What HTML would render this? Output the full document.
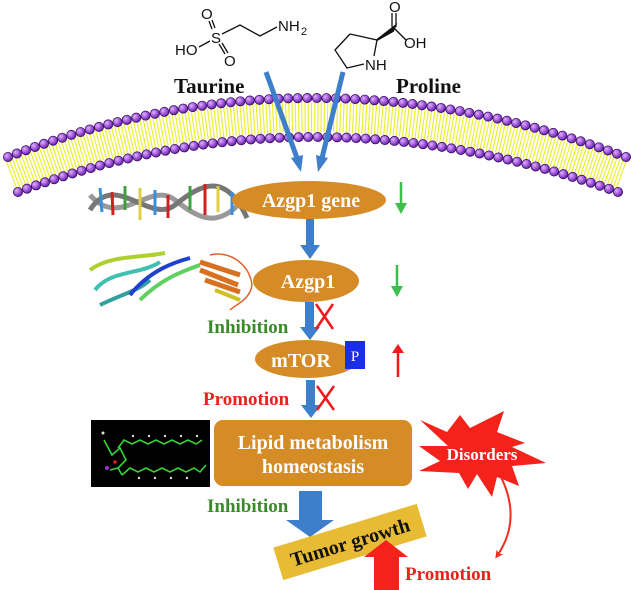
<!DOCTYPE html>
<html><head><meta charset="utf-8"><style>
html,body{margin:0;padding:0;background:#fff;}
svg{display:block;}
.sf{font-family:"Liberation Serif",serif;font-weight:bold;}
.ss{font-family:"Liberation Sans",sans-serif;}
</style></head><body>
<svg id="s" width="633" height="590" viewBox="0 0 633 590" xmlns="http://www.w3.org/2000/svg">
<defs>
<radialGradient id="bead" cx="0.35" cy="0.35" r="0.7"><stop offset="0" stop-color="#e0b0ff"/><stop offset="0.6" stop-color="#9a4fd8"/><stop offset="1" stop-color="#5a2090"/></radialGradient>
<marker id="rh" markerWidth="8" markerHeight="8" refX="5" refY="4" orient="auto" markerUnits="userSpaceOnUse"><path d="M0,0 L8,4 L0,8 L2,4 Z" fill="#f03020"/></marker>
</defs>
<path d="M11,175 Q310,59 623,175" fill="none" stroke="#eeee30" stroke-width="30" stroke-dasharray="1.2 2"/>
<path id="outer" d="M8,157 Q310,39 626,157" fill="none" stroke="none"/>
<path id="inner" d="M18,192 Q310,82 618,192" fill="none" stroke="none"/>
<g id="beads"></g>

<g class="ss" font-size="15" fill="#111">
<text x="175" y="55">HO</text>
<text x="211" y="43">S</text>
<text x="201" y="19">O</text>
<text x="224" y="66">O</text>
<text x="278" y="31">NH</text><text x="301" y="35" font-size="11">2</text>
</g>
<g stroke="#111" stroke-width="1.3" fill="none">
<path d="M199,47 L210,41"/><path d="M222,34 L240,25 L260,36 L277,27"/>
<path d="M212,29 L209,21 M215,28 L212,20"/><path d="M219,44 L225,54 M222,43 L228,53"/>
</g>
<g stroke="#111" stroke-width="1.3" fill="none">
<path d="M350,34 L335,50 L347,68 L364,64 M374,56 L377,40 L350,34"/>
<path d="M392,27 L392,13 M396,27 L396,13"/><path d="M394,28 L406,40"/>
</g>
<path d="M377,40 L395,26 L393,31 Z" fill="#111" stroke="#111" stroke-width="2"/>
<g class="ss" font-size="15" fill="#111">
<text x="389" y="12">O</text><text x="404" y="48">OH</text><text x="365" y="70">NH</text>
</g>
<text class="sf" x="174" y="93" font-size="21" fill="#111">Taurine</text>
<text class="sf" x="396" y="93" font-size="21" fill="#111">Proline</text>

<g stroke="#3d7fcb" stroke-width="5" fill="#3d7fcb">
<line x1="266" y1="72" x2="297" y2="158"/>
<line x1="343" y1="72" x2="322" y2="158"/>
</g>
<path d="M291,158 L303,155 L301,172 Z" fill="#3d7fcb"/>
<path d="M316,155 L328,158 L318,172 Z" fill="#3d7fcb"/>

<g fill="none">
<path d="M90,195 C120,230 150,180 175,200 S220,230 247,195" stroke="#999" stroke-width="5"/>
<path d="M90,210 C115,170 150,225 175,205 S225,170 247,218" stroke="#777" stroke-width="5"/>
<g stroke-width="3">
<line x1="100" y1="188" x2="102" y2="212" stroke="#3a8ee0"/><line x1="112" y1="192" x2="113" y2="215" stroke="#d02020"/>
<line x1="125" y1="186" x2="125" y2="210" stroke="#40a040"/><line x1="140" y1="188" x2="140" y2="220" stroke="#e0d040"/>
<line x1="155" y1="190" x2="155" y2="215" stroke="#3a8ee0"/><line x1="168" y1="195" x2="168" y2="218" stroke="#d02020"/>
<line x1="190" y1="186" x2="190" y2="210" stroke="#40a040"/><line x1="205" y1="184" x2="205" y2="215" stroke="#d02020"/>
<line x1="218" y1="186" x2="218" y2="212" stroke="#e0d040"/><line x1="232" y1="192" x2="232" y2="215" stroke="#3a8ee0"/>
</g></g>

<g fill="none" stroke-width="4">
<path d="M90,270 C110,255 140,258 165,253" stroke="#b0d030"/>
<path d="M95,290 C110,270 140,275 160,262" stroke="#40c0b0"/>
<path d="M100,305 C120,295 140,290 150,280" stroke="#30a0a0"/>
<path d="M130,295 C150,270 175,262 190,258" stroke="#2040d0"/>
<path d="M140,300 C160,280 180,272 200,265" stroke="#60d060"/>
<path d="M200,262 L240,275 M200,270 L238,285 M205,280 L240,292" stroke="#d87020" stroke-width="5"/>
<path d="M210,255 C230,250 250,265 252,285 C250,300 235,305 230,310" stroke="#e06030" stroke-width="1.5"/>
<path d="M215,290 L240,300" stroke="#d0c020"/>
</g>

<ellipse cx="309" cy="200" rx="77" ry="19" fill="#d58b26"/>
<text class="sf" x="311" y="207" font-size="20" fill="#fff" text-anchor="middle">Azgp1 gene</text>
<line x1="401" y1="182" x2="401" y2="206" stroke="#3cbf4c" stroke-width="2.5"/><path d="M395,203 L407,203 L401,214 Z" fill="#3cbf4c"/>

<rect x="306" y="219" width="8" height="27" fill="#3d7fcb"/><path d="M300,245 L320,245 L310,259 Z" fill="#3d7fcb"/>

<ellipse cx="306" cy="281" rx="53" ry="21" fill="#d58b26"/>
<text class="sf" x="308" y="288" font-size="20" fill="#fff" text-anchor="middle">Azgp1</text>
<line x1="397" y1="265" x2="397" y2="288" stroke="#3cbf4c" stroke-width="2.5"/><path d="M391,286 L403,286 L397,297 Z" fill="#3cbf4c"/>

<rect x="305" y="302" width="9" height="26" fill="#3d7fcb"/><path d="M300,327 L320,327 L310,340 Z" fill="#3d7fcb"/>
<path d="M316,304 L333,329 M333,304 L316,329" stroke="#f01a1a" stroke-width="2.5"/>
<text class="sf" x="207" y="333" font-size="19" fill="#3a8a2a">Inhibition</text>

<ellipse cx="307" cy="359" rx="52" ry="19" fill="#d58b26"/>
<text class="sf" x="301" y="367" font-size="20" fill="#fff" text-anchor="middle">mTOR</text>
<rect x="345" y="341" width="20" height="28" fill="#1a2ee8"/>
<text x="355" y="361" font-size="15" fill="#fff" text-anchor="middle" font-family="Liberation Serif, serif">P</text>
<line x1="398" y1="350" x2="398" y2="377" stroke="#f01a1a" stroke-width="2.5"/><path d="M392,353 L404,353 L398,344 Z" fill="#f01a1a"/>

<rect x="306" y="380" width="9" height="26" fill="#3d7fcb"/><path d="M301,405 L321,405 L311,418 Z" fill="#3d7fcb"/>
<path d="M317,386 L334,410 M334,386 L317,410" stroke="#f01a1a" stroke-width="2.5"/>
<text class="sf" x="203" y="405" font-size="19" fill="#e8231c">Promotion</text>

<rect x="91" y="420" width="119" height="67" fill="#000"/>
<g stroke="#3ad23a" stroke-width="1.6" fill="none">
<path d="M104,440 L112,455 L120,448 L126,460 L118,468 L122,475"/>
<path d="M118,448 L124,440 L132,444 L140,440 L148,444 L156,440 L164,444 L172,440 L180,444 L188,440 L196,444 L202,440"/>
<path d="M110,470 L118,468 M122,475 L130,468 L138,472 L146,468 L154,472 L162,468 L170,472 L178,468 L186,472 L194,468 L200,472 L206,465"/>
</g>
<g fill="#ddd"><circle cx="103" cy="433" r="1.5"/><circle cx="133" cy="436" r="1.2"/><circle cx="149" cy="436" r="1.2"/><circle cx="165" cy="436" r="1.2"/><circle cx="181" cy="436" r="1.2"/><circle cx="197" cy="436" r="1.2"/><circle cx="139" cy="478" r="1.2"/><circle cx="155" cy="478" r="1.2"/><circle cx="171" cy="478" r="1.2"/><circle cx="187" cy="478" r="1.2"/></g>
<circle cx="107" cy="468" r="2" fill="#a030d0"/><circle cx="115" cy="462" r="1.8" fill="#e02020"/>

<rect x="214" y="420" width="198" height="66" rx="9" fill="#d58b26"/>
<text class="sf" x="313" y="449" font-size="20" fill="#fff" text-anchor="middle">Lipid metabolism</text>
<text class="sf" x="313" y="473" font-size="20" fill="#fff" text-anchor="middle">homeostasis</text>

<path d="M420,420 L447,432 L460,415 L470,428 L504,411 L497,432 L525,443 L512,447 L546,463 L512,466 L519,486 L497,477 L492,497 L477,474 L468,489 L459,473 L419,471 L440,461 L419,446 L448,446 Z" fill="#f4221a"/>
<text class="sf" x="482" y="460" font-size="17" fill="#fff" text-anchor="middle">Disorders</text>
<path d="M501,477 Q522,520 497,556" fill="none" stroke="#f03020" stroke-width="2" marker-end="url(#rh)"/>

<rect x="299" y="491" width="23" height="30" fill="#3d7fcb"/><path d="M286,520 L334,520 L310,537 Z" fill="#3d7fcb"/>
<text class="sf" x="207" y="512" font-size="19" fill="#3a8a2a">Inhibition</text>

<g transform="translate(350,542) rotate(-17)">
<rect x="-75" y="-17" width="150" height="34" fill="#e8bb34"/>
<text class="sf" x="0" y="7" font-size="20" fill="#111" text-anchor="middle">Tumor growth</text>
</g>
<rect x="374" y="556" width="25" height="34" fill="#f4221a"/><path d="M364,557 L408,557 L386,540 Z" fill="#f4221a"/>
<text class="sf" x="405" y="580" font-size="19" fill="#e8231c">Promotion</text>
</svg>
<script>
(function(){
 var ns="http://www.w3.org/2000/svg",g=document.getElementById('beads');
 ['outer','inner'].forEach(function(id){
  var p=document.getElementById(id),L=p.getTotalLength(),n=Math.round(L/9.6);
  for(var i=0;i<=n;i++){var pt=p.getPointAtLength(L*i/n);var c=document.createElementNS(ns,'circle');
   c.setAttribute('cx',pt.x);c.setAttribute('cy',pt.y);c.setAttribute('r',4.6);c.setAttribute('fill','url(#bead)');c.setAttribute('stroke','#3a1060');c.setAttribute('stroke-width','0.8');g.appendChild(c);}
 });
})();
</script>
</body></html>
